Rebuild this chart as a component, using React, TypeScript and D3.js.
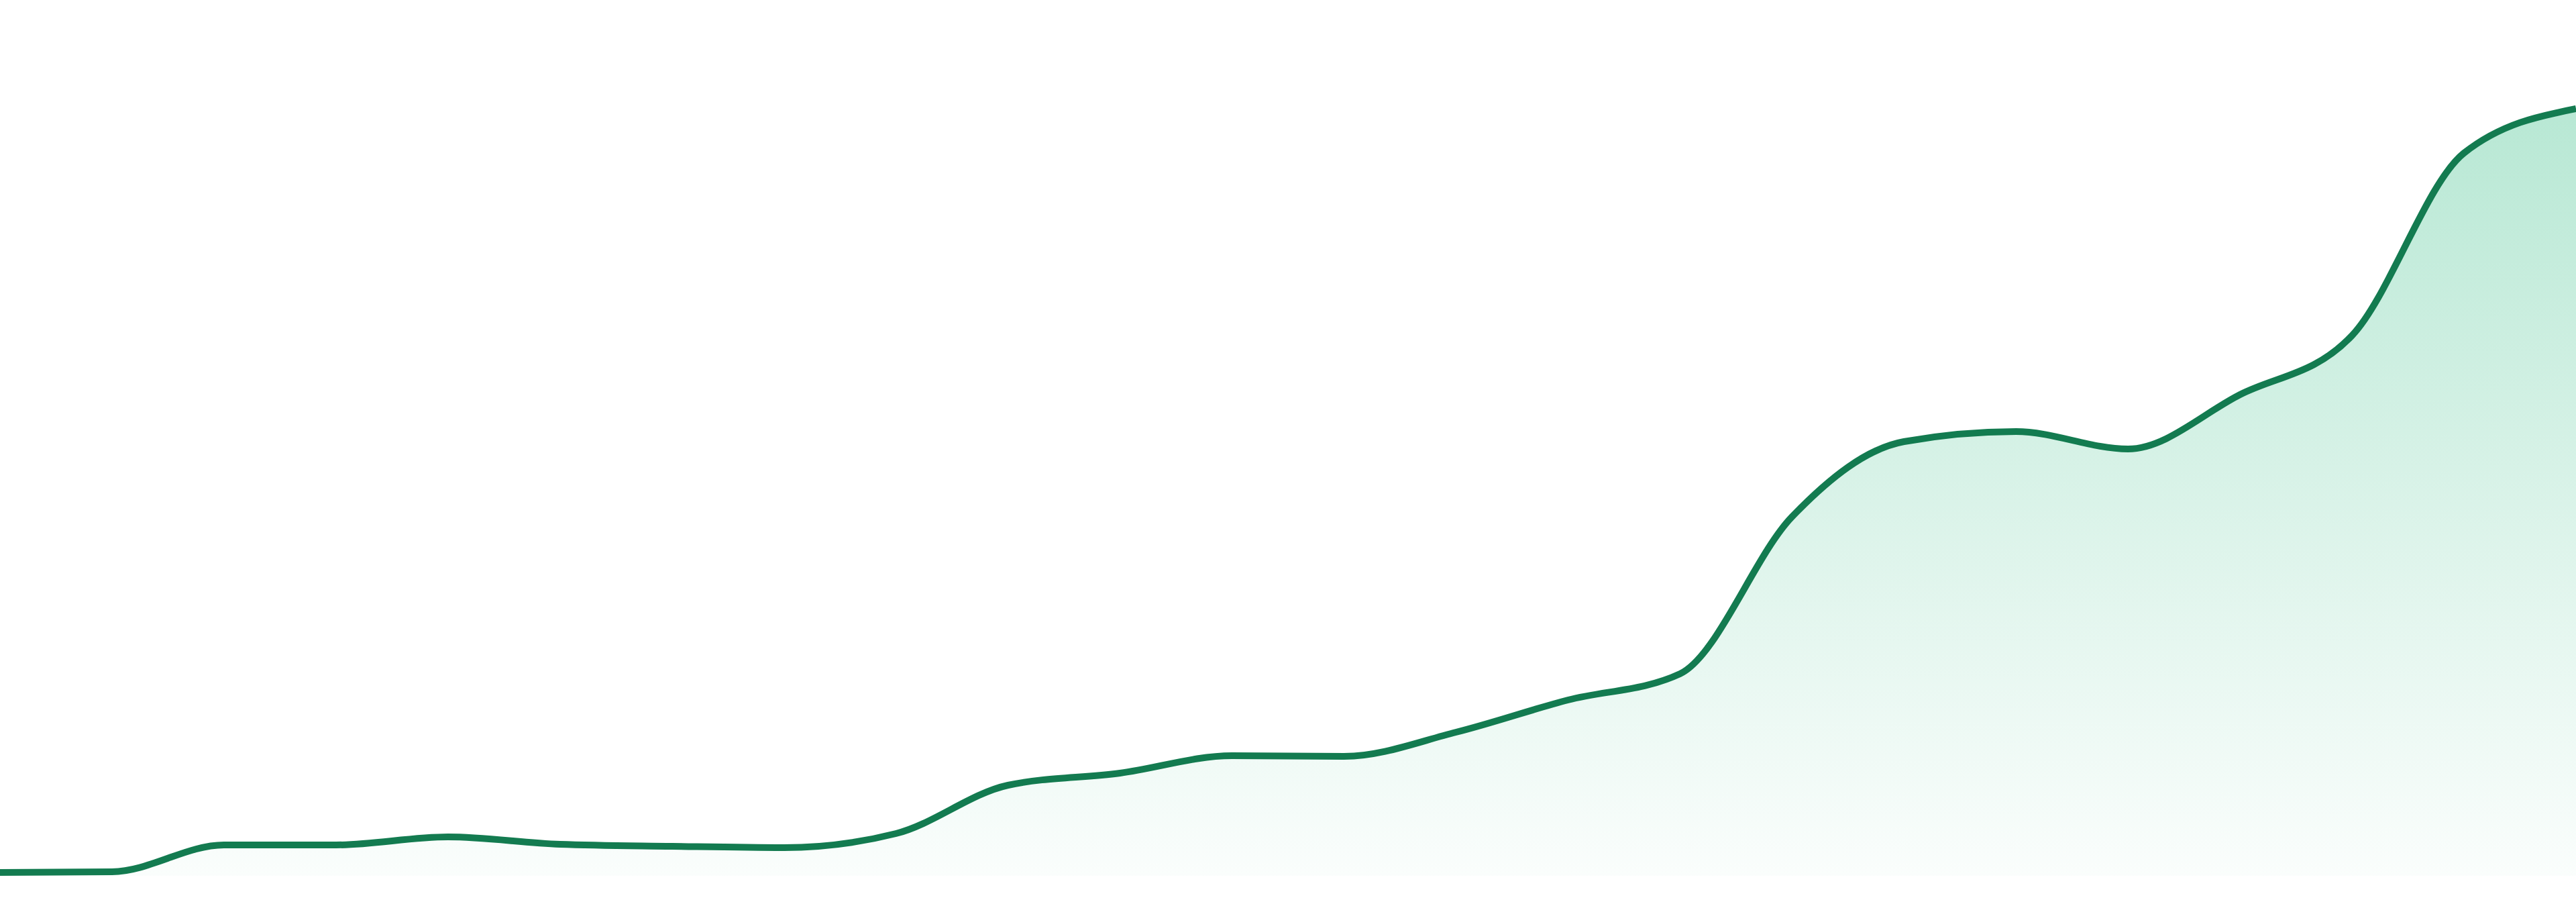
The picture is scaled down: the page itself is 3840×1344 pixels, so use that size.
import React from 'react';
import * as d3 from 'd3';

const WIDTH = 3840;
const HEIGHT = 1344;

// periods along the x axis (evenly spaced, 24 samples)
const periods = d3.range(24);

// series values
const values = [
  0.5, 0.6, 4.6, 4.6, 5.8, 4.7, 4.4, 4.2, 6.3, 13.5, 15.3, 17.9,
  17.8, 21.4, 26.2, 30.1, 53.5, 64.7, 66.2, 63.6, 71.7, 80.5, 107.7, 114.3,
];

const App: React.FC = () => {
  const x = d3.scaleLinear().domain([0, periods.length - 1]).range([0, WIDTH]);
  const y = d3.scaleLinear().domain([0, 120]).range([1305, 105]);

  const data = periods.map((p, i) => ({ p, v: values[i] }));

  const line = d3.line<{ p: number; v: number }>()
    .x((d) => x(d.p))
    .y((d) => y(d.v))
    .curve(d3.curveMonotoneX);

  const area = d3.area<{ p: number; v: number }>()
    .x((d) => x(d.p))
    .y0(y(0))
    .y1((d) => y(d.v))
    .curve(d3.curveMonotoneX);

  const top = y(d3.max(values) as number);

  return (
    <svg
      width={WIDTH}
      height={HEIGHT}
      style={{ position: 'absolute', left: 0, top: 0, display: 'block', background: '#fff' }}
    >
      <defs>
        <linearGradient id="areaFill" gradientUnits="userSpaceOnUse" x1={0} x2={0} y1={top} y2={y(0)}>
          <stop offset="0%" stopColor="#12b270" stopOpacity={0.3} />
          <stop offset="100%" stopColor="#12b270" stopOpacity={0.02} />
        </linearGradient>
      </defs>
      <path d={area(data) ?? ''} fill="url(#areaFill)" />
      <path d={line(data) ?? ''} fill="none" stroke="#137b50" strokeWidth={10} strokeLinejoin="round" />
    </svg>
  );
};

export default App;
